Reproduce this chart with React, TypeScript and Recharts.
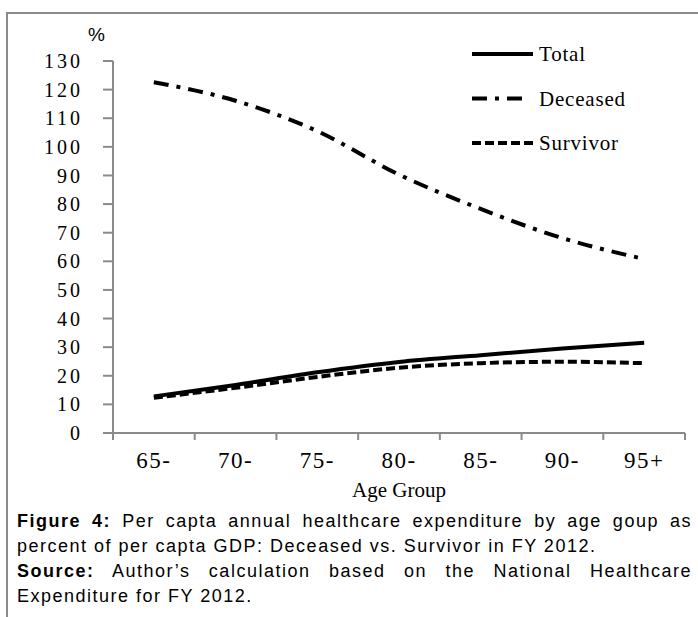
import React from 'react';
import { LineChart, Line, XAxis, YAxis, Legend } from 'recharts';

const categories = ['65-', '70-', '75-', '80-', '85-', '90-', '95+'];
const totalValues = [12.8, 16.8, 21.2, 24.8, 27.2, 29.5, 31.5];
const deceasedValues = [122.6, 116.1, 105.5, 90.3, 78.3, 68.1, 60.8];
const survivorValues = [12.3, 15.8, 19.6, 22.8, 24.4, 24.9, 24.4];
const yTicks = [0, 10, 20, 30, 40, 50, 60, 70, 80, 90, 100, 110, 120, 130];

const series = [
  { key: 'total', name: 'Total', dash: undefined as string | undefined },
  { key: 'deceased', name: 'Deceased', dash: '15 8 4 8' },
  { key: 'survivor', name: 'Survivor', dash: '9 4' },
];

const data = categories.map((c, i) => ({
  age: c,
  total: totalValues[i],
  deceased: deceasedValues[i],
  survivor: survivorValues[i],
}));

const CHART_W = 698;
const CHART_H = 510;
const MARGIN = { top: 61, right: 13, left: 0, bottom: 0 };
const Y_W = 113;
const PLOT_W = CHART_W - MARGIN.left - MARGIN.right - Y_W;
const HALF_BAND = PLOT_W / categories.length / 2;
const AXIS = '#8a8a8a';
const SERIF = '"Liberation Serif", "Times New Roman", serif';
const SANS = '"Liberation Sans", Arial, sans-serif';

const XTick = (props: any) => {
  const { x, y, payload, index } = props;
  const axisY = y - 7;
  const last = index === categories.length - 1;
  return (
    <g>
      <line x1={x - HALF_BAND} x2={x - HALF_BAND} y1={axisY} y2={axisY + 7} stroke={AXIS} strokeWidth={2} />
      {last && (
        <line x1={x + HALF_BAND} x2={x + HALF_BAND} y1={axisY} y2={axisY + 7} stroke={AXIS} strokeWidth={2} />
      )}
      <text x={x} y={axisY + 35} textAnchor="middle" fontFamily={SERIF} fontSize={23} letterSpacing={1.5} fill="#000">
        {payload.value}
      </text>
    </g>
  );
};

const renderLegend = () => (
  <svg width={230} height={130} style={{ display: 'block' }}>
    {series.map((s, i) => {
      const cy = 24 + i * 44.5;
      return (
        <g key={s.key}>
          <line
            x1={7}
            x2={s.dash === '15 8 4 8' ? 57 : 68}
            y1={cy}
            y2={cy}
            stroke="#000"
            strokeWidth={4}
            strokeDasharray={s.dash}
          />
          <text x={74} y={cy + 7} fontFamily={SERIF} fontSize={21} letterSpacing={0.8} fill="#000">
            {s.name}
          </text>
        </g>
      );
    })}
  </svg>
);

const captionLine = (justify: boolean): React.CSSProperties => ({
  height: 25,
  whiteSpace: 'nowrap',
  textAlign: justify ? 'justify' : 'left',
  textAlignLast: justify ? 'justify' : 'left',
  overflow: 'visible',
});

export default function App() {
  return (
    <div style={{ position: 'absolute', left: 0, top: 0, width: 698, height: 617, background: '#fff', overflow: 'hidden' }}>
      <div
        style={{
          position: 'absolute',
          left: 6,
          top: 12,
          width: 700,
          height: 620,
          borderTop: `2px solid ${AXIS}`,
          borderLeft: `2px solid ${AXIS}`,
        }}
      />
      <div
        style={{
          position: 'absolute',
          left: 88,
          top: 24,
          fontFamily: SANS,
          fontSize: 19,
          lineHeight: '22px',
          color: '#000',
        }}
      >
        %
      </div>
      <div style={{ position: 'absolute', left: 0, top: 0 }}>
        <LineChart width={CHART_W} height={CHART_H} data={data} margin={MARGIN}>
          <XAxis
            dataKey="age"
            scale="band"
            height={CHART_H - 433}
            axisLine={{ stroke: AXIS, strokeWidth: 2 }}
            tickLine={false}
            tickSize={7}
            tickMargin={0}
            tick={<XTick />}
            interval={0}
            label={{
              value: 'Age Group',
              position: 'insideBottom',
              offset: 13,
              fontFamily: SERIF,
              fontSize: 21,
              fill: '#000',
            }}
          />
          <YAxis
            width={Y_W}
            domain={[0, 130]}
            ticks={yTicks}
            interval={0}
            axisLine={{ stroke: AXIS, strokeWidth: 2 }}
            tickLine={{ stroke: AXIS, strokeWidth: 2 }}
            tickSize={10}
            tickMargin={20}
            tick={{ fontFamily: SERIF, fontSize: 20, fill: '#000', letterSpacing: 3 }}
          />
          <Legend
            layout="vertical"
            align="center"
            verticalAlign="middle"
            content={renderLegend}
            wrapperStyle={{ position: 'absolute', left: 465, top: 30, width: 230, height: 130 }}
          />
          {series.map((s) => (
            <Line
              key={s.key}
              dataKey={s.key}
              name={s.name}
              type="monotone"
              stroke="#000"
              strokeWidth={4}
              strokeDasharray={s.dash}
              dot={false}
              activeDot={false}
              isAnimationActive={false}
            />
          ))}
        </LineChart>
      </div>
      <div
        style={{
          position: 'absolute',
          left: 17,
          top: 509,
          width: 675,
          fontFamily: SANS,
          fontSize: 18,
          lineHeight: '25px',
          color: '#000',
          letterSpacing: 1.5,
        }}
      >
        <div style={captionLine(true)}>
          <b>Figure 4:</b> Per capta annual healthcare expenditure by age goup as
        </div>
        <div style={captionLine(false)}>percent of per capta GDP: Deceased vs. Survivor in FY 2012.</div>
        <div style={captionLine(true)}>
          <b>Source:</b> Author’s calculation based on the National Healthcare
        </div>
        <div style={captionLine(false)}>Expenditure for FY 2012.</div>
      </div>
    </div>
  );
}
